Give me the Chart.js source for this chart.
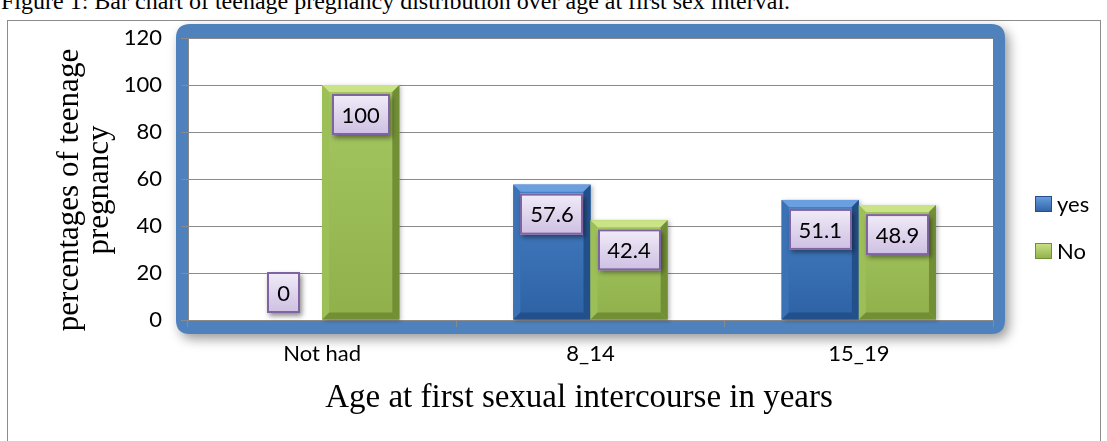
<!DOCTYPE html>
<html>
<head>
<meta charset="utf-8">
<title>Teenage pregnancy by age at first sexual intercourse</title>
<script src="https://cdn.jsdelivr.net/npm/chart.js@4.4.1/dist/chart.umd.min.js"></script>
<style>
  html, body { margin: 0; padding: 0; background: #fff; overflow: hidden; }
  #wrap { position: relative; width: 1107px; height: 441px; }
  #caption {
    position: absolute; left: 1px; top: -11px; white-space: nowrap; color: #000;
    font: 24px "Liberation Serif", "Times New Roman", serif; line-height: 24px;
  }
  #frame {
    position: absolute; left: 7px; top: 20px; width: 1094px; height: 440px;
    border: 1px solid #8c8c8c; box-sizing: border-box;
  }
  canvas { position: absolute; left: 0; top: 0; }
</style>
</head>
<body>
<div id="wrap">
  <div id="caption">Figure 1: Bar chart of teenage pregnancy distribution over age at first sex interval.</div>
  <div id="frame"></div>
  <canvas id="pregChart" width="1107" height="441"></canvas>
</div>
<script>
// --- data ---
const categories = ["Not had", "8_14", "15_19"];
const seriesNames = ["yes", "No"];
const yesValues = [0, 57.6, 51.1];
const noValues = [100, 42.4, 48.9];
const yTicks = [0, 20, 40, 60, 80, 100, 120];
const xTitle = "Age at first sexual intercourse in years";
const yTitle = ["percentages of teenage", "pregnancy"];

// --- styles ---
const sansFont = "Lato";
const serifFont = "'Liberation Serif', 'Times New Roman', serif";
const gridGray = "#8a8a8a";
const barStyles = [
  { face: ["#4780c5", "#2d62a5"], light: "#6aa0df", side: "#3b72b6", dark: "#23508a" },   // yes
  { face: ["#a6c862", "#8fb04b"], light: "#cbe387", side: "#9dbf58", dark: "#728f36" }    // No
];

function roundRect(ctx, x, y, w, h, r) {
  ctx.beginPath();
  ctx.moveTo(x + r, y);
  ctx.lineTo(x + w - r, y);
  ctx.quadraticCurveTo(x + w, y, x + w, y + r);
  ctx.lineTo(x + w, y + h - r);
  ctx.quadraticCurveTo(x + w, y + h, x + w - r, y + h);
  ctx.lineTo(x + r, y + h);
  ctx.quadraticCurveTo(x, y + h, x, y + h - r);
  ctx.lineTo(x, y + r);
  ctx.quadraticCurveTo(x, y, x + r, y);
  ctx.closePath();
}

// blue glowing frame round the plot area
const plotFrame = {
  id: "plotFrame",
  beforeDraw(chart) {
    const { ctx, chartArea: a } = chart;
    ctx.save();
    ctx.shadowColor = "rgba(0,0,0,0.4)";
    ctx.shadowBlur = 12;
    ctx.shadowOffsetX = 4;
    ctx.shadowOffsetY = 5;
    ctx.fillStyle = "#4f81bd";
    roundRect(ctx, a.left - 12, a.top - 14, a.right - a.left + 24, a.bottom - a.top + 28, 14);
    ctx.fill();
    ctx.restore();
    ctx.fillStyle = "#fff";
    ctx.fillRect(a.left, a.top, a.right - a.left, a.bottom - a.top);
  }
};

// bevelled bar faces, drawn over the library's bars
const bevelBars = {
  id: "bevelBars",
  afterDatasetsDraw(chart) {
    const ctx = chart.ctx;
    chart.data.datasets.forEach((ds, di) => {
      const st = barStyles[di];
      chart.getDatasetMeta(di).data.forEach((bar) => {
        const { x, y, base, width } = bar.getProps(["x", "y", "base", "width"], true);
        const l = x - width / 2, r = x + width / 2, t = y, b = base;
        if (b - t < 2) return;
        const bv = Math.min(7, (b - t) / 2);
        ctx.save();
        ctx.shadowColor = "rgba(0,0,0,0.25)";
        ctx.shadowBlur = 4;
        ctx.shadowOffsetX = 2;
        ctx.shadowOffsetY = 1;
        const g = ctx.createLinearGradient(0, t, 0, b);
        g.addColorStop(0, st.face[0]);
        g.addColorStop(1, st.face[1]);
        ctx.fillStyle = g;
        ctx.fillRect(l, t, r - l, b - t);
        ctx.restore();
        const quad = (pts, color) => {
          ctx.beginPath();
          ctx.moveTo(pts[0][0], pts[0][1]);
          for (let i = 1; i < pts.length; i++) ctx.lineTo(pts[i][0], pts[i][1]);
          ctx.closePath();
          ctx.fillStyle = color;
          ctx.fill();
        };
        quad([[l, t], [r, t], [r - bv, t + bv], [l + bv, t + bv]], st.light);
        quad([[l, t], [l + bv, t + bv], [l + bv, b - bv], [l, b]], st.side);
        quad([[r, t], [r, b], [r - bv, b - bv], [r - bv, t + bv]], st.dark);
        quad([[l, b], [l + bv, b - bv], [r - bv, b - bv], [r, b]], st.dark);
      });
    });
  }
};

// lavender value boxes
const valueBoxes = {
  id: "valueBoxes",
  afterDatasetsDraw(chart) {
    const ctx = chart.ctx;
    ctx.save();
    ctx.font = "22px " + sansFont;
    chart.data.datasets.forEach((ds, di) => {
      chart.getDatasetMeta(di).data.forEach((bar, i) => {
        const { x, y, base } = bar.getProps(["x", "y", "base"], true);
        const txt = String(ds.data[i]);
        const w = Math.round(ctx.measureText(txt).width + 20);
        const h = 41;
        const top = Math.min(y + 9, base - 7 - h);
        const left = Math.round(x - w / 2);
        ctx.save();
        ctx.shadowColor = "rgba(0,0,0,0.45)";
        ctx.shadowBlur = 5;
        ctx.shadowOffsetX = 2;
        ctx.shadowOffsetY = 3;
        const g = ctx.createLinearGradient(0, top, 0, top + h);
        g.addColorStop(0, "#f1ecf8");
        g.addColorStop(1, "#cdbfe2");
        ctx.fillStyle = g;
        ctx.fillRect(left, top, w, h);
        ctx.restore();
        ctx.strokeStyle = "#8064a2";
        ctx.lineWidth = 2;
        ctx.strokeRect(left + 1, top + 1, w - 2, h - 2);
        ctx.fillStyle = "#000";
        ctx.textAlign = "center";
        ctx.textBaseline = "middle";
        ctx.fillText(txt, x, top + h / 2 + 1);
      });
    });
    ctx.restore();
  }
};

// axis titles and legend on the right
const chartTexts = {
  id: "chartTexts",
  afterDraw(chart) {
    const ctx = chart.ctx;
    ctx.save();
    ctx.fillStyle = "#000";
    ctx.font = "33px " + serifFont;
    ctx.textAlign = "center";
    ctx.textBaseline = "alphabetic";
    ctx.fillText(xTitle, 579, 407);

    ctx.save();
    ctx.translate(0, 190);
    ctx.rotate(-Math.PI / 2);
    ctx.font = "31px " + serifFont;
    ctx.fillText(yTitle[0], 0, 78);
    ctx.fillText(yTitle[1], 0, 108);
    ctx.restore();

    ctx.font = "22px " + sansFont;
    ctx.textAlign = "left";
    ctx.textBaseline = "middle";
    const rows = [204, 251];
    chart.data.datasets.forEach((ds, di) => {
      const cy = rows[di];
      const st = barStyles[di];
      const g = ctx.createLinearGradient(0, cy - 8, 0, cy + 8);
      g.addColorStop(0, st.light);
      g.addColorStop(1, st.face[1]);
      ctx.fillStyle = g;
      ctx.fillRect(1035, cy - 8, 17, 16);
      ctx.strokeStyle = st.dark;
      ctx.lineWidth = 1;
      ctx.strokeRect(1035.5, cy - 7.5, 16, 15);
      ctx.fillStyle = "#000";
      ctx.fillText(ds.label, 1057, cy + 1);
    });
    ctx.restore();
  }
};

new Chart(document.getElementById("pregChart"), {
  type: "bar",
  data: {
    labels: categories,
    datasets: [
      { label: seriesNames[0], data: yesValues, backgroundColor: barStyles[0].face[0] },
      { label: seriesNames[1], data: noValues, backgroundColor: barStyles[1].face[0] }
    ]
  },
  options: {
    responsive: false,
    animation: false,
    events: [],
    layout: { padding: { top: 38, right: 114, bottom: 0, left: 0 } },
    datasets: { bar: { categoryPercentage: 0.575, barPercentage: 1, borderWidth: 0 } },
    plugins: { legend: { display: false }, tooltip: { enabled: false } },
    scales: {
      x: {
        grid: { drawOnChartArea: false, drawTicks: true, tickLength: 7, color: gridGray, offset: true },
        border: { color: gridGray },
        ticks: { color: "#000", font: { family: sansFont, size: 22 }, padding: 14, maxRotation: 0 },
        afterFit: (s) => { s.height = 121; }
      },
      y: {
        min: yTicks[0],
        max: yTicks[yTicks.length - 1],
        ticks: { stepSize: yTicks[1] - yTicks[0], color: "#000", font: { family: sansFont, size: 22 }, padding: 19 },
        grid: { color: gridGray, tickLength: 7 },
        border: { color: gridGray },
        afterFit: (s) => { s.width = 188; }
      }
    }
  },
  plugins: [plotFrame, bevelBars, valueBoxes, chartTexts]
});
</script>
</body>
</html>
